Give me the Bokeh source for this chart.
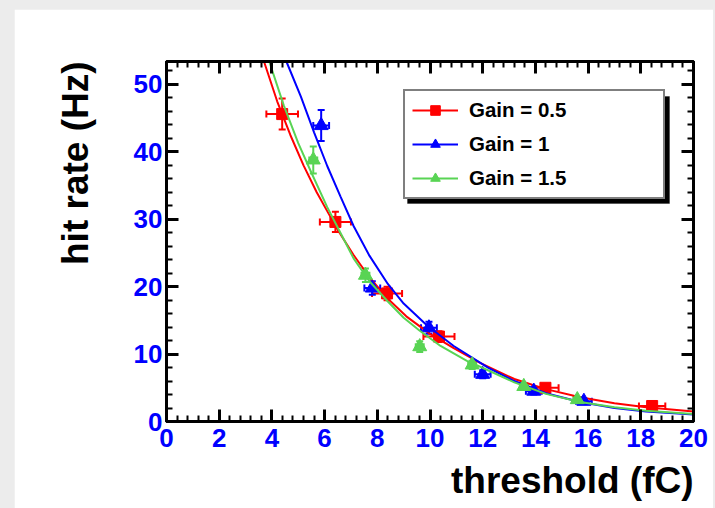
from bokeh.plotting import figure
from bokeh.models import (ColumnDataSource, Whisker, TeeHead, LinearAxis, SingleIntervalTicker,
                          Legend, LegendItem, Range1d, BoxAnnotation, CustomJSTickFormatter, Title)
from bokeh.layouts import column
from bokeh.embed import file_html
from bokeh.resources import INLINE

# ---------------- data ----------------
red_x = [4.39, 6.41, 8.37, 10.34, 14.38, 18.43]
red_y = [45.6, 29.6, 19.0, 12.6, 5.0, 2.3]
red_xerr = [0.6, 0.59, 0.57, 0.59, 0.5, 0.5]
red_yerr = [2.3, 1.5, 1.0, 0.8, 0.5, 0.4]

blue_x = [5.87, 7.81, 9.96, 12.0, 13.94, 15.84]
blue_y = [43.9, 19.8, 13.9, 7.0, 4.5, 3.0]
blue_xerr = [0.3, 0.3, 0.3, 0.3, 0.3, 0.3]
blue_yerr = [2.3, 1.0, 0.9, 0.6, 0.5, 0.4]

green_x = [5.57, 7.55, 9.61, 11.6, 13.56, 15.59]
green_y = [38.8, 21.7, 11.1, 8.4, 5.2, 3.25]
green_xerr = [0.15, 0.15, 0.15, 0.15, 0.15, 0.15]
green_yerr = [2.0, 1.0, 0.8, 0.6, 0.5, 0.4]

# fitted curves
red_fit_x = [3.7, 4.2, 4.7, 5.2, 5.7, 6.2, 6.5, 7.1, 7.7, 8.4, 9.1, 10.0, 10.9, 11.9, 13.2, 14.4, 15.7, 17.0, 18.2, 20.0]
red_fit_y = [53.4, 47.5, 42.5, 38.0, 34.0, 30.5, 28.4, 24.7, 21.4, 18.2, 15.6, 13.0, 10.9, 8.7, 6.3, 4.8, 3.6, 2.7, 2.1, 1.5]

blue_fit_x = [4.55, 5.1, 5.6, 6.1, 6.6, 7.1, 7.7, 8.4, 9.0, 9.9, 10.9, 12.2, 13.2, 14.4, 15.7, 17.0, 18.2, 20.0]
blue_fit_y = [53.4, 48.2, 42.9, 37.9, 33.4, 29.0, 24.6, 20.4, 17.5, 14.2, 11.2, 8.0, 6.0, 4.2, 2.9, 2.0, 1.5, 1.05]

green_fit_x = [3.9, 4.45, 5.0, 5.5, 6.1, 6.6, 7.1, 7.7, 8.4, 9.0, 9.6, 10.4, 11.4, 12.2, 13.2, 14.4, 15.7, 17.0, 18.2, 20.0]
green_fit_y = [53.4, 46.9, 41.3, 36.9, 31.8, 28.0, 24.2, 20.8, 17.8, 15.4, 13.5, 11.2, 9.0, 7.6, 5.8, 4.1, 2.9, 2.1, 1.6, 1.1]

labels = ["Gain = 0.5", "Gain = 1", "Gain = 1.5"]
colors = ["#ff0000", "#0000ff", "#59d454"]
x_title = "threshold (fC)"
y_title = "hit rate (Hz)"

X_RANGE = (0, 20)
Y_RANGE = (0, 53.4)

FONT = "Liberation Sans"

p = figure(width=699, height=499, output_backend="svg", toolbar_location=None,
           x_range=Range1d(*X_RANGE), y_range=Range1d(*Y_RANGE),
           min_border_left=152, min_border_right=20, min_border_top=52, min_border_bottom=86,
           frame_width=527, frame_height=361)
p.margin = (9, 2, 0, 14)
p.background_fill_color = "white"
p.border_fill_color = "white"
p.grid.visible = False
p.outline_line_color = "black"
p.outline_line_width = 3

p.xaxis.ticker = SingleIntervalTicker(interval=2, num_minor_ticks=5)
p.yaxis.ticker = SingleIntervalTicker(interval=10, num_minor_ticks=5)


def style_axis(ax, labels_on=True):
    ax.axis_line_color = "black"
    ax.axis_line_width = 3
    ax.major_tick_line_color = "black"
    ax.major_tick_line_width = 3
    ax.minor_tick_line_color = "black"
    ax.minor_tick_line_width = 2
    ax.major_tick_in = 12
    ax.major_tick_out = 0
    ax.minor_tick_in = 6
    ax.minor_tick_out = 0
    if labels_on:
        ax.major_label_text_font = FONT
        ax.major_label_text_font_style = "bold"
        ax.major_label_text_font_size = "26px"
        ax.major_label_text_color = "#0000ff"
    else:
        ax.formatter = CustomJSTickFormatter(code="return ''")
        ax.major_label_standoff = 0


for ax in p.xaxis:
    style_axis(ax)
    ax.major_label_standoff = 7
for ax in p.yaxis:
    style_axis(ax)
    ax.major_label_standoff = 4

top_ax = LinearAxis(ticker=SingleIntervalTicker(interval=2, num_minor_ticks=5))
style_axis(top_ax, labels_on=False)
p.add_layout(top_ax, "above")
right_ax = LinearAxis(ticker=SingleIntervalTicker(interval=10, num_minor_ticks=5))
style_axis(right_ax, labels_on=False)
p.add_layout(right_ax, "right")

xt = Title(text=x_title, align="right", text_font=FONT, text_font_style="bold",
           text_font_size="37px", text_color="black", standoff=16)
p.add_layout(xt, "below")
yt = Title(text=y_title, align="right", text_font=FONT, text_font_style="bold",
           text_font_size="37px", text_color="black", standoff=70)
p.add_layout(yt, "left")

series = [
    (red_x, red_y, red_xerr, red_yerr, red_fit_x, red_fit_y, "square", 11),
    (blue_x, blue_y, blue_xerr, blue_yerr, blue_fit_x, blue_fit_y, "triangle", 14),
    (green_x, green_y, green_xerr, green_yerr, green_fit_x, green_fit_y, "triangle", 14),
]

items = []
for (xs, ys, xe, ye, fx, fy, marker, size), lab, col in zip(series, labels, colors):
    line = p.line(fx, fy, line_color=col, line_width=2)
    src = ColumnDataSource(dict(
        x=xs, y=ys,
        xl=[a - b for a, b in zip(xs, xe)], xu=[a + b for a, b in zip(xs, xe)],
        yl=[a - b for a, b in zip(ys, ye)], yu=[a + b for a, b in zip(ys, ye)],
    ))
    wy = Whisker(source=src, base="x", lower="yl", upper="yu", dimension="height",
                 line_color=col, line_width=2,
                 lower_head=TeeHead(size=7, line_color=col, line_width=2),
                 upper_head=TeeHead(size=7, line_color=col, line_width=2))
    wx = Whisker(source=src, base="y", lower="xl", upper="xu", dimension="width",
                 line_color=col, line_width=2,
                 lower_head=TeeHead(size=7, line_color=col, line_width=2),
                 upper_head=TeeHead(size=7, line_color=col, line_width=2))
    p.add_layout(wy)
    p.add_layout(wx)
    sc = p.scatter("x", "y", source=src, marker=marker, size=size,
                   fill_color=col, line_color=col)
    items.append(LegendItem(label=lab, renderers=[line, sc]))

shadow = BoxAnnotation(left=241, right=503, bottom=218, top=325,
                       left_units="screen", right_units="screen",
                       bottom_units="screen", top_units="screen",
                       fill_color="black", fill_alpha=1.0, line_color="black", level="annotation")
p.add_layout(shadow)

legend = Legend(items=items, location=(237, 222))
legend.border_line_color = "black"
legend.border_line_width = 2
legend.background_fill_color = "white"
legend.background_fill_alpha = 1.0
legend.label_text_font = FONT
legend.label_text_font_style = "bold"
legend.label_text_font_size = "20.5px"
legend.label_text_color = "black"
legend.glyph_width = 46
legend.glyph_height = 24
legend.label_standoff = 11
legend.label_width = 187
legend.spacing = 10
legend.padding = 7
legend.margin = 0
p.add_layout(legend, "center")

layout = column(p, width=715, height=508, styles={"background-color": "#ececec"})

open("out.html", "w").write(file_html(layout, INLINE))
